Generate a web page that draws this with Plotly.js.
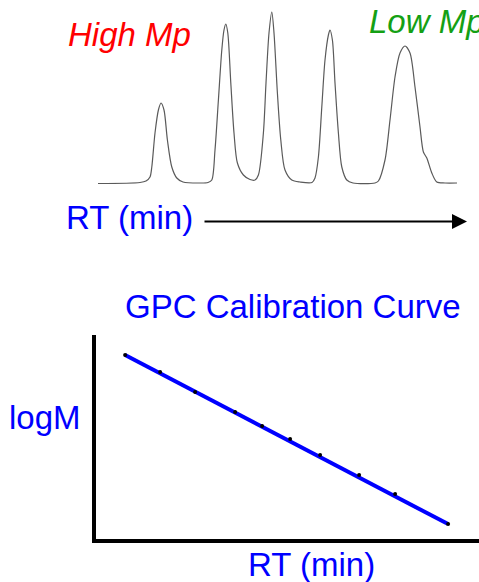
<!DOCTYPE html>
<html>
<head>
<meta charset="utf-8">
<script src="https://cdn.plot.ly/plotly-3.0.1.min.js"></script>
<style>html,body{margin:0;padding:0;background:#fff;}#chart{width:479px;height:582px;}</style>
</head>
<body>
<div id="chart"></div>
<script>
// Chromatogram (top): retention time (min) and detector response
var chromRT = [4.9, 7.0, 7.3, 7.5, 7.59, 7.75, 7.92, 8.05, 8.2, 8.37, 8.59, 8.84, 9.15, 10.0,
  10.4, 10.59, 10.75, 10.92, 11.09, 11.2, 11.29, 11.39, 11.54, 11.7, 11.87, 12.17, 12.5, 12.75,
  12.92, 13.17, 13.3, 13.45, 13.59, 13.7, 13.87, 14.04, 14.25, 14.59, 15.0,
  15.6, 15.75, 15.92, 16.09, 16.25, 16.42, 16.5, 16.62, 16.75, 16.92, 17.09, 17.34, 17.65,
  18.75, 18.92, 19.25, 19.5, 19.75, 20.0, 20.25, 20.5, 20.75, 21.0, 21.17, 21.34, 21.59, 21.84, 22.25, 22.85];
var chromSignal = [-0.5, 0.5, 2, 6, 16, 50, 73, 80, 73, 43, 16, 5, 1, 0,
  0.5, 3, 33, 83, 133, 153, 159, 150, 100, 50, 20, 8, 3.5, 3,
  8, 50, 100, 150, 171, 150, 90, 43, 13, 3, 1,
  0.5, 5, 26, 76, 123, 148, 153, 143, 100, 50, 16, 3, 0,
  0, 2, 23, 63, 106, 130, 137, 130, 96, 56, 31, 25, 10, 1, 0, 0];

// Calibration standards (bottom): retention time (min) vs logM
var calRT = [1.48, 3.23, 4.98, 6.98, 8.33, 9.73, 11.23, 13.18, 14.98, 17.63];
var calLogM = [6.59, 6.16, 5.66, 5.16, 4.81, 4.49, 4.09, 3.59, 3.11, 2.36];
// Fitted calibration line end points
var fitRT = [1.48, 17.63];
var fitLogM = [6.59, 2.36];

// Text labels
var labelHigh = 'High Mp';
var labelLow = 'Low Mp';
var labelRT = 'RT (min)';
var labelTitle = 'GPC Calibration Curve';
var labelLogM = 'logM';

var W = 479, H = 582;
function px(x) { return x / W; }
function py(y) { return 1 - y / H; }
var FONT = 'Liberation Sans, Arial, sans-serif';
var FS = 33;

var traces = [
  { x: chromRT, y: chromSignal, xaxis: 'x', yaxis: 'y', type: 'scatter', mode: 'lines',
    line: { color: '#5a5a5a', width: 1.2, shape: 'spline', smoothing: 0.8 }, hoverinfo: 'skip' },
  { x: fitRT, y: fitLogM, xaxis: 'x2', yaxis: 'y2', type: 'scatter', mode: 'lines',
    line: { color: '#0000ff', width: 4 }, hoverinfo: 'skip' },
  { x: calRT, y: calLogM, xaxis: 'x2', yaxis: 'y2', type: 'scatter', mode: 'markers',
    marker: { color: '#000000', size: 4 }, hoverinfo: 'skip' }
];

function txt(t, x, y, color, italic, xanchor) {
  return { text: t, xref: 'paper', yref: 'paper', x: px(x), y: py(y), showarrow: false,
    xanchor: xanchor || 'center', yanchor: 'middle',
    font: { family: FONT, size: FS, color: color, style: italic ? 'italic' : 'normal' } };
}

var layout = {
  width: W, height: H,
  margin: { l: 0, r: 0, t: 0, b: 0, pad: 0 },
  paper_bgcolor: '#ffffff', plot_bgcolor: 'rgba(0,0,0,0)',
  showlegend: false,
  xaxis: { domain: [0, 1], range: [0, 23.95], visible: false, anchor: 'y', fixedrange: true },
  yaxis: { domain: [py(200), 1], range: [-17, 183], visible: false, anchor: 'x', fixedrange: true },
  xaxis2: { domain: [px(95.5), 1], range: [0, 19.175], anchor: 'y2', showline: true, linewidth: 4,
    linecolor: '#000000', showgrid: false, zeroline: false, showticklabels: false, ticks: '', fixedrange: true },
  yaxis2: { domain: [py(538.5), py(335)], range: [2, 7.0875], anchor: 'x2', showline: true, linewidth: 4,
    linecolor: '#000000', showgrid: false, zeroline: false, showticklabels: false, ticks: '', fixedrange: true },
  annotations: [
    txt(labelHigh, 129, 34, '#ff0000', true),
    txt(labelLow, 367, 22, '#14a014', true, 'left'),
    txt(labelRT, 129, 217, '#0000ff', false),
    { text: '', xref: 'paper', yref: 'paper', x: px(467), y: py(221.5), ax: -264, ay: 0,
      showarrow: true, arrowhead: 2, arrowsize: 1.5, arrowwidth: 2, arrowcolor: '#000000', standoff: 0 },
    txt(labelTitle, 293, 306, '#0000ff', false),
    txt(labelLogM, 45, 417, '#0000ff', false),
    txt(labelRT, 311, 564, '#0000ff', false)
  ]
};

Plotly.newPlot('chart', traces, layout, { staticPlot: true, displayModeBar: false });
</script>
</body>
</html>
